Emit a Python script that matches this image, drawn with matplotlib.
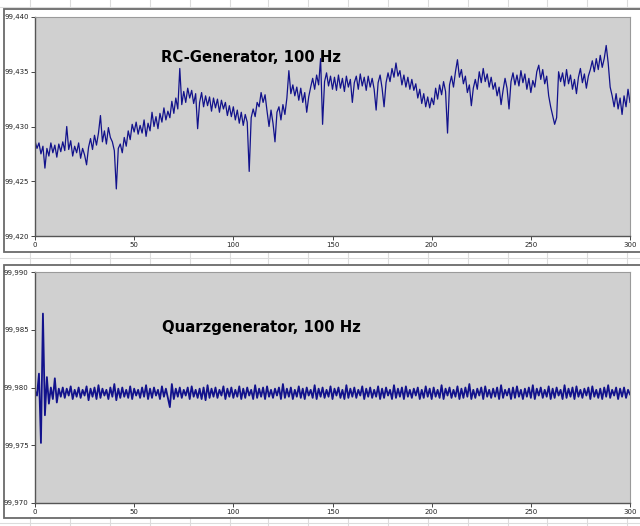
import matplotlib
matplotlib.use("Agg")
import matplotlib.pyplot as plt
from matplotlib.ticker import FuncFormatter, MultipleLocator
from matplotlib.patches import Rectangle

# ---------------- data ----------------
time_s = list(range(0, 301))  # seconds, one reading per second

rc_freq = [
    99.4287, 99.4280, 99.4285, 99.4275, 99.4282, 99.4262, 99.4280, 99.4273, 99.4285, 99.4276,
    99.4283, 99.4272, 99.4284, 99.4277, 99.4286, 99.4278, 99.4300, 99.4279, 99.4287, 99.4273,
    99.4282, 99.4276, 99.4285, 99.4271, 99.4280, 99.4274, 99.4265, 99.4281, 99.4289, 99.4279,
    99.4292, 99.4283, 99.4294, 99.4310, 99.4286, 99.4296, 99.4284, 99.4299, 99.4290, 99.4286,
    99.4278, 99.4243, 99.4280, 99.4284, 99.4276, 99.4290, 99.4282, 99.4296, 99.4288, 99.4302,
    99.4295, 99.4304, 99.4293, 99.4301, 99.4294, 99.4306, 99.4291, 99.4303, 99.4296, 99.4313,
    99.4300, 99.4309, 99.4298, 99.4312, 99.4304, 99.4317, 99.4306, 99.4314, 99.4308, 99.4323,
    99.4312, 99.4326, 99.4316, 99.4353, 99.4320, 99.4332, 99.4322, 99.4335, 99.4326, 99.4333,
    99.4321, 99.4330, 99.4298, 99.4322, 99.4331, 99.4318, 99.4328, 99.4319, 99.4327, 99.4314,
    99.4326, 99.4317, 99.4325, 99.4313, 99.4324, 99.4316, 99.4322, 99.4310, 99.4319, 99.4309,
    99.4318, 99.4306, 99.4315, 99.4303, 99.4313, 99.4301, 99.4311, 99.4304, 99.4259, 99.4308,
    99.4316, 99.4309, 99.4322, 99.4318, 99.4331, 99.4322, 99.4329, 99.4314, 99.4300, 99.4315,
    99.4303, 99.4286, 99.4313, 99.4318, 99.4306, 99.4320, 99.4311, 99.4326, 99.4351, 99.4330,
    99.4338, 99.4328, 99.4336, 99.4324, 99.4335, 99.4322, 99.4331, 99.4313, 99.4327, 99.4336,
    99.4344, 99.4334, 99.4347, 99.4338, 99.4362, 99.4302, 99.4341, 99.4349, 99.4337, 99.4346,
    99.4334, 99.4345, 99.4333, 99.4347, 99.4335, 99.4344, 99.4332, 99.4346, 99.4336, 99.4343,
    99.4322, 99.4340, 99.4346, 99.4334, 99.4348, 99.4337, 99.4345, 99.4333, 99.4346, 99.4336,
    99.4344, 99.4334, 99.4315, 99.4340, 99.4347, 99.4335, 99.4318, 99.4340, 99.4349, 99.4341,
    99.4353, 99.4345, 99.4358, 99.4346, 99.4351, 99.4338, 99.4347, 99.4336, 99.4345, 99.4334,
    99.4343, 99.4333, 99.4339, 99.4326, 99.4334, 99.4321, 99.4330, 99.4318, 99.4327, 99.4317,
    99.4326, 99.4320, 99.4335, 99.4325, 99.4338, 99.4329, 99.4341, 99.4332, 99.4294, 99.4338,
    99.4346, 99.4336, 99.4350, 99.4361, 99.4345, 99.4352, 99.4339, 99.4346, 99.4331, 99.4338,
    99.4319, 99.4335, 99.4343, 99.4334, 99.4350, 99.4340, 99.4353, 99.4341, 99.4348, 99.4336,
    99.4345, 99.4334, 99.4340, 99.4328, 99.4336, 99.4320, 99.4333, 99.4344, 99.4335, 99.4316,
    99.4341, 99.4349, 99.4338, 99.4347, 99.4337, 99.4351, 99.4340, 99.4348, 99.4334, 99.4344,
    99.4331, 99.4342, 99.4336, 99.4350, 99.4356, 99.4343, 99.4352, 99.4339, 99.4346, 99.4328,
    99.4318, 99.4310, 99.4302, 99.4308, 99.4350, 99.4341, 99.4349, 99.4337, 99.4352, 99.4339,
    99.4347, 99.4334, 99.4343, 99.4330, 99.4345, 99.4353, 99.4340, 99.4348, 99.4335, 99.4346,
    99.4352, 99.4360, 99.4350, 99.4362, 99.4352, 99.4365, 99.4354, 99.4362, 99.4374, 99.4358,
    99.4336, 99.4328, 99.4318, 99.4330, 99.4316, 99.4326, 99.4311, 99.4328, 99.4318, 99.4334,
    99.4322,
]

quartz_freq = [
    99.9797, 99.9793, 99.9812, 99.9752, 99.9864, 99.9776, 99.9809, 99.9786, 99.9800, 99.9790,
    99.9808, 99.9787, 99.9799, 99.9792, 99.9800,
    99.9791, 99.9799, 99.9793, 99.9801, 99.9790, 99.9798, 99.9792, 99.9800, 99.9791, 99.9798,
    99.9793, 99.9801, 99.9789, 99.9799, 99.9792, 99.9800, 99.9790, 99.9802, 99.9791, 99.9799,
    99.9793, 99.9798, 99.9790, 99.9800, 99.9792, 99.9803, 99.9789, 99.9799, 99.9791, 99.9800,
    99.9792, 99.9798, 99.9791, 99.9801, 99.9790, 99.9799, 99.9793, 99.9798, 99.9791, 99.9800,
    99.9792, 99.9802, 99.9790, 99.9799, 99.9791, 99.9800, 99.9793, 99.9798, 99.9790, 99.9801,
    99.9792, 99.9799, 99.9791, 99.9783, 99.9803, 99.9790, 99.9799, 99.9792, 99.9800, 99.9791,
    99.9798, 99.9793, 99.9800, 99.9790, 99.9801, 99.9792, 99.9798, 99.9791, 99.9799, 99.9790,
    99.9800, 99.9789, 99.9802, 99.9791, 99.9799, 99.9792, 99.9800, 99.9791, 99.9798, 99.9793,
    99.9801, 99.9790, 99.9799, 99.9792, 99.9800, 99.9791, 99.9798, 99.9792, 99.9801, 99.9790,
    99.9799, 99.9791, 99.9800, 99.9793, 99.9798, 99.9790, 99.9802, 99.9791, 99.9799, 99.9792,
    99.9800, 99.9790, 99.9801, 99.9792, 99.9798, 99.9791, 99.9799, 99.9793, 99.9800, 99.9790,
    99.9803, 99.9791, 99.9799, 99.9792, 99.9800, 99.9790, 99.9798, 99.9792, 99.9801, 99.9791,
    99.9799, 99.9790, 99.9800, 99.9793, 99.9798, 99.9791, 99.9802, 99.9790, 99.9799, 99.9792,
    99.9800, 99.9791, 99.9798, 99.9792, 99.9801, 99.9790, 99.9799, 99.9793, 99.9800, 99.9791,
    99.9798, 99.9790, 99.9802, 99.9791, 99.9799, 99.9792, 99.9800, 99.9791, 99.9798, 99.9793,
    99.9801, 99.9790, 99.9799, 99.9792, 99.9800, 99.9791, 99.9798, 99.9792, 99.9801, 99.9790,
    99.9799, 99.9791, 99.9800, 99.9793, 99.9798, 99.9790, 99.9802, 99.9791, 99.9799, 99.9792,
    99.9800, 99.9790, 99.9801, 99.9792, 99.9798, 99.9791, 99.9799, 99.9793, 99.9800, 99.9790,
    99.9798, 99.9791, 99.9801, 99.9792, 99.9799, 99.9790, 99.9800, 99.9792, 99.9798, 99.9791,
    99.9802, 99.9790, 99.9799, 99.9793, 99.9800, 99.9791, 99.9798, 99.9792, 99.9801, 99.9790,
    99.9799, 99.9791, 99.9800, 99.9792, 99.9803, 99.9790, 99.9798, 99.9791, 99.9799, 99.9793,
    99.9800, 99.9790, 99.9801, 99.9792, 99.9798, 99.9791, 99.9799, 99.9792, 99.9800, 99.9790,
    99.9802, 99.9791, 99.9798, 99.9793, 99.9799, 99.9790, 99.9800, 99.9791, 99.9801, 99.9792,
    99.9798, 99.9790, 99.9799, 99.9792, 99.9800, 99.9791, 99.9802, 99.9790, 99.9799, 99.9793,
    99.9800, 99.9791, 99.9798, 99.9792, 99.9801, 99.9790, 99.9799, 99.9791, 99.9800, 99.9793,
    99.9798, 99.9790, 99.9802, 99.9791, 99.9799, 99.9792, 99.9800, 99.9790, 99.9801, 99.9792,
    99.9798, 99.9791, 99.9799, 99.9793, 99.9800, 99.9790, 99.9801, 99.9792, 99.9798, 99.9791,
    99.9799, 99.9790, 99.9800, 99.9792, 99.9802, 99.9791, 99.9798, 99.9793, 99.9800, 99.9790,
    99.9799, 99.9792, 99.9800, 99.9791, 99.9798, 99.9794,
]

titles = ["RC-Generator, 100 Hz", "Quarzgenerator, 100 Hz"]
y_ranges = [(99.420, 99.440), (99.970, 99.990)]
x_ticks = [0, 50, 100, 150, 200, 250, 300]

# ---------------- styling ----------------
W, H = 640, 526
LINE_COLOR = "#12128c"
PLOT_BG = "#d0d0d0"

fig = plt.figure(figsize=(W / 100, H / 100), dpi=100)
fig.patch.set_facecolor("white")

# spreadsheet background (pixel coordinates)
bg = fig.add_axes([0, 0, 1, 1], zorder=0)
bg.set_xlim(0, W)
bg.set_ylim(H, 0)
bg.axis("off")
grid_c = "#dcdcdc"
for gx in [30, 70, 110, 150, 190, 230, 268, 308, 348, 388, 428, 468, 508, 547, 587, 627]:
    bg.plot([gx, gx], [0, H], color=grid_c, lw=0.8)
for gy in [7, 258, 523]:
    bg.plot([0, W], [gy, gy], color=grid_c, lw=0.8)
# chart frames
for (top, bottom) in [(9, 252), (265, 518)]:
    bg.add_patch(Rectangle((4, top), W + 10, bottom - top, facecolor="white",
                           edgecolor="#6a6a6a", lw=1.3, zorder=2))

# axes placement (figure fractions)
ax_specs = [
    (35, 630, 17, 236),
    (35, 630, 272, 503),
]
series = [rc_freq, quartz_freq]
line_widths = [0.9, 1.3]
title_pos = [(0.212, 0.817), (0.2134, 0.758)]

fmt = FuncFormatter(lambda v, p: f"{v:.3f}".replace(".", ","))

for i, (l, r, t, b) in enumerate(ax_specs):
    ax = fig.add_axes([l / W, (H - b) / H, (r - l) / W, (b - t) / H], zorder=3)
    ax.set_facecolor(PLOT_BG)
    ax.plot(time_s, series[i], color=LINE_COLOR, lw=line_widths[i])
    ax.set_xlim(0, 300)
    ax.set_ylim(*y_ranges[i])
    ax.set_xticks(x_ticks)
    ax.yaxis.set_major_locator(MultipleLocator(0.005))
    ax.yaxis.set_major_formatter(fmt)
    ax.tick_params(axis="both", labelsize=5, length=3, width=0.7,
                   color="#444444", labelcolor="#222222", pad=1.5)
    for side in ["left", "bottom"]:
        ax.spines[side].set_color("#555555")
        ax.spines[side].set_linewidth(1.0)
    for side in ["top", "right"]:
        ax.spines[side].set_color("#9a9a9a")
        ax.spines[side].set_linewidth(0.8)
    ax.text(title_pos[i][0], title_pos[i][1], titles[i], transform=ax.transAxes,
            ha="left", va="center", fontsize=10.7, fontweight="bold", color="black")

fig.savefig("out.png", dpi=100)
